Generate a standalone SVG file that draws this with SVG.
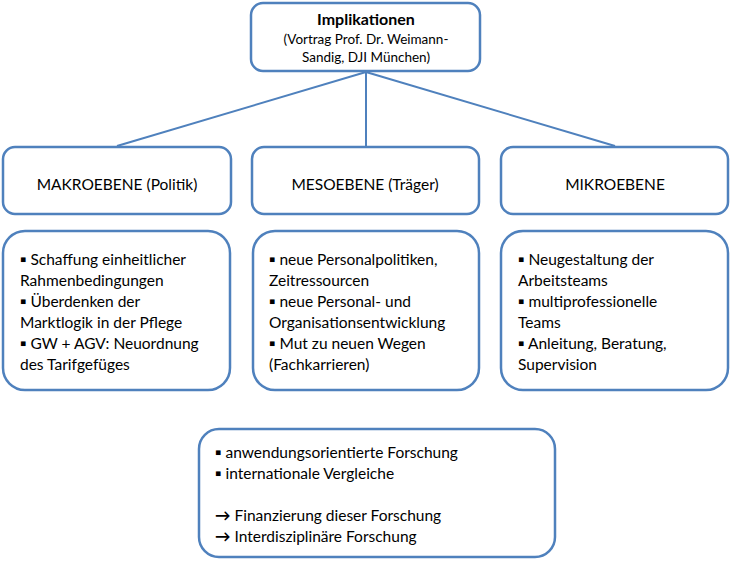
<svg xmlns="http://www.w3.org/2000/svg" width="733" height="565" viewBox="0 0 733 565">
<style>
.box{fill:#fff;stroke:#4f81bd;stroke-width:2.5}
.con{stroke:#4f81bd;stroke-width:2;fill:none}
text{font-family:Lato,"Liberation Sans",sans-serif;fill:#000}
.t{font-size:15.5px}
.h{font-size:13.5px}
.c{text-anchor:middle}
.b{font-weight:bold}
</style>
<rect width="733" height="565" fill="#fff"/>
<g id="connectors">
<line class="con" x1="366" y1="72" x2="117" y2="146"/>
<line class="con" x1="366" y1="72" x2="366" y2="146"/>
<line class="con" x1="366" y1="72" x2="615" y2="146"/>
</g>
<g id="implikationen">
<rect class="box" x="251" y="3" width="229" height="68" rx="12"/>
<text class="c" x="366" y="25" font-weight="bold" font-size="16">Implikationen</text>
<text class="h c" x="366" y="44">(Vortrag Prof. Dr. Weimann-</text>
<text class="h c" x="366" y="62">Sandig, DJI München)</text>
</g>
<g id="makro">
<rect class="box" x="3" y="147" width="228" height="67" rx="12"/>
<text class="t c" x="117" y="190">MAKROEBENE (Politik)</text>
</g>
<g id="meso">
<rect class="box" x="252" y="147" width="227" height="67" rx="12"/>
<text class="t c" x="365" y="190">MESOEBENE (Träger)</text>
</g>
<g id="mikro">
<rect class="box" x="501" y="147" width="227" height="67" rx="12"/>
<text class="t c" x="615" y="190">MIKROEBENE</text>
</g>
<g id="makro-inhalt">
<rect class="box" x="3" y="231" width="227" height="159" rx="22"/>
<text class="t" x="20" y="265"><tspan class="b">▪</tspan> Schaffung einheitlicher</text>
<text class="t" x="20" y="286">Rahmenbedingungen</text>
<text class="t" x="20" y="307"><tspan class="b">▪</tspan> Überdenken der</text>
<text class="t" x="20" y="328">Marktlogik in der Pflege</text>
<text class="t" x="20" y="349"><tspan class="b">▪</tspan> GW + AGV: Neuordnung</text>
<text class="t" x="20" y="370">des Tarifgefüges</text>
</g>
<g id="meso-inhalt">
<rect class="box" x="253" y="231" width="226" height="159" rx="22"/>
<text class="t" x="269" y="265"><tspan class="b">▪</tspan> neue Personalpolitiken,</text>
<text class="t" x="269" y="286">Zeitressourcen</text>
<text class="t" x="269" y="307"><tspan class="b">▪</tspan> neue Personal- und</text>
<text class="t" x="269" y="328">Organisationsentwicklung</text>
<text class="t" x="269" y="349"><tspan class="b">▪</tspan> Mut zu neuen Wegen</text>
<text class="t" x="269" y="370">(Fachkarrieren)</text>
</g>
<g id="mikro-inhalt">
<rect class="box" x="501" y="231" width="227" height="159" rx="22"/>
<text class="t" x="518" y="265"><tspan class="b">▪</tspan> Neugestaltung der</text>
<text class="t" x="518" y="286">Arbeitsteams</text>
<text class="t" x="518" y="307"><tspan class="b">▪</tspan> multiprofessionelle</text>
<text class="t" x="518" y="328">Teams</text>
<text class="t" x="518" y="349"><tspan class="b">▪</tspan> Anleitung, Beratung,</text>
<text class="t" x="518" y="370">Supervision</text>
</g>
<g id="forschung">
<rect class="box" x="199" y="429" width="356" height="128" rx="20"/>
<text class="t" x="215" y="458"><tspan class="b">▪</tspan> anwendungsorientierte Forschung</text>
<text class="t" x="215" y="479"><tspan class="b">▪</tspan> internationale Vergleiche</text>
<text class="t" x="215" y="521"><tspan class="b">→</tspan> Finanzierung dieser Forschung</text>
<text class="t" x="215" y="542"><tspan class="b">→</tspan> Interdisziplinäre Forschung</text>
</g>
</svg>
